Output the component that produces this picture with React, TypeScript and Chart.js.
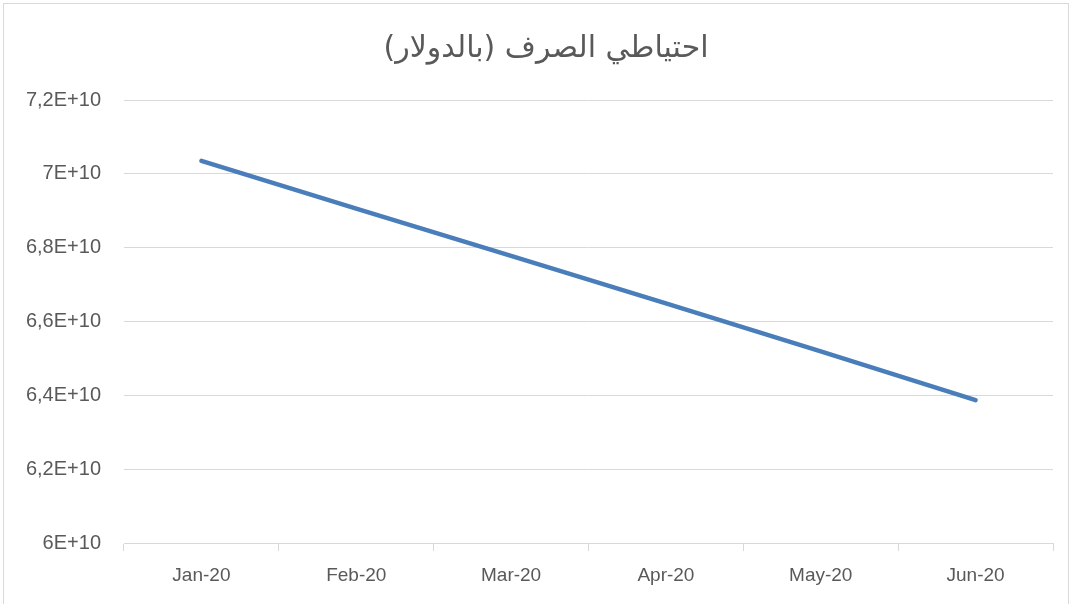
import React, { useEffect, useRef } from "react";
import { Chart, registerables } from "chart.js";

Chart.register(...registerables);

const categories = ["Jan-20", "Feb-20", "Mar-20", "Apr-20", "May-20", "Jun-20"];
const reserves = [70350000000, 69060000000, 67780000000, 66490000000, 65190000000, 63870000000];
const titleText = "احتياطي الصرف (بالدولار)";
const yMin = 60000000000;
const yMax = 72000000000;
const yStep = 2000000000;

function formatTick(v: number): string {
  const m = Math.round(v / 1e9) / 10;
  return String(m).replace(".", ",") + "E+10";
}

const titlePlugin = {
  id: "customTitle",
  afterDraw(chart: any) {
    const ctx = chart.ctx;
    ctx.save();
    ctx.font = "normal 30px 'DejaVu Sans', 'Liberation Sans', sans-serif";
    ctx.fillStyle = "#595959";
    ctx.textAlign = "center";
    ctx.textBaseline = "middle";
    ctx.fillText(titleText, 546, 49);
    ctx.restore();
  },
};

export default function App() {
  const ref = useRef<HTMLCanvasElement | null>(null);
  useEffect(() => {
    if (!ref.current) return;
    const grey = "#d9d9d9";
    const text = "#595959";
    const chart = new Chart(ref.current, {
      type: "line",
      data: {
        labels: categories,
        datasets: [
          {
            data: reserves,
            borderColor: "#4a7ebb",
            borderWidth: 4.5,
            borderCapStyle: "round",
            borderJoinStyle: "round",
            pointRadius: 0,
            tension: 0,
            fill: false,
          },
        ],
      },
      plugins: [titlePlugin],
      options: {
        animation: false,
        responsive: false,
        maintainAspectRatio: false,
        layout: { padding: { left: 0, right: 20, top: 100, bottom: 0 } },
        plugins: {
          legend: { display: false },
          tooltip: { enabled: false },
          title: { display: false },
        },
        scales: {
          x: {
            type: "category",
            offset: true,
            grid: {
              offset: true,
              drawOnChartArea: false,
              drawTicks: true,
              tickLength: 8,
              color: grey,
              lineWidth: 1,
            },
            border: { display: true, color: grey, width: 1 },
            ticks: {
              color: text,
              font: { family: "'Liberation Sans', Arial, sans-serif", size: 19 },
              padding: 13,
              maxRotation: 0,
              autoSkip: false,
            },
            afterFit: (s: any) => {
              s.height = 61;
            },
          },
          y: {
            min: yMin,
            max: yMax,
            grid: { color: grey, lineWidth: 1, drawTicks: false },
            border: { display: false },
            ticks: {
              stepSize: yStep,
              color: text,
              font: { family: "'Liberation Sans', Arial, sans-serif", size: 20 },
              padding: 23,
              callback: (v: any) => formatTick(Number(v)),
            },
            afterFit: (s: any) => {
              s.width = 124;
            },
          },
        },
      },
    });
    return () => chart.destroy();
  }, []);
  return (
    <div style={{ position: "fixed", left: 0, top: 0, width: 1073, height: 604, background: "#fff", overflow: "hidden" }}>
      <div
        style={{
          position: "absolute",
          left: 3,
          top: 3,
          width: 1066,
          height: 640,
          border: "1px solid #d9d9d9",
          boxSizing: "border-box",
        }}
      />
      <canvas ref={ref} width={1073} height={604} style={{ position: "absolute", left: 0, top: 0, width: 1073, height: 604 }} />
    </div>
  );
}
